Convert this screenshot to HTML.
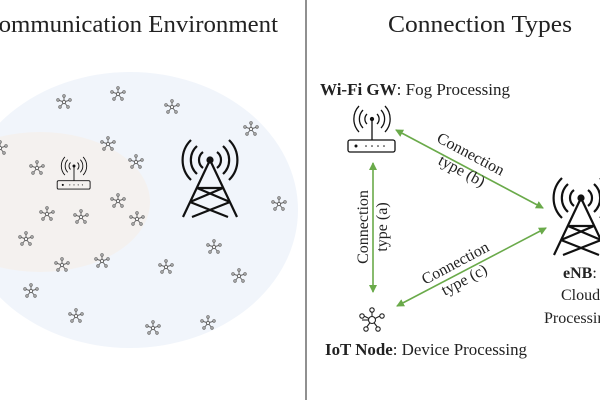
<!DOCTYPE html>
<html><head><meta charset="utf-8"><style>
html,body{margin:0;padding:0;background:#fff;width:600px;height:400px;overflow:hidden}
svg{display:block}
text{font-family:"Liberation Serif",serif;fill:#222}
</style></head><body>
<svg width="600" height="400" viewBox="0 0 600 400" xmlns="http://www.w3.org/2000/svg">
<defs>
<g id="st" fill="#fff" stroke="#666" stroke-width="1">
<line x1="0" y1="0" x2="0" y2="-6"/><line x1="0" y1="0" x2="6" y2="-2"/><line x1="0" y1="0" x2="4" y2="5"/><line x1="0" y1="0" x2="-4" y2="5"/><line x1="0" y1="0" x2="-6" y2="-2"/>
<circle cx="0" cy="-6" r="1.2"/><circle cx="6" cy="-2" r="1.2"/><circle cx="4" cy="5" r="1.2"/><circle cx="-4" cy="5" r="1.2"/><circle cx="-6" cy="-2" r="1.2"/><circle r="1.6"/>
</g>
<g id="tower" fill="none" stroke="#111" stroke-width="2.2">
<path d="M0,0 L-27,57 M0,0 L27,57 M-20,42 L18,57 M20,42 L-18,57 M-13,28 L20,42 M13,28 L-20,42 M-13,28 L13,28"/>
<circle cx="0" cy="0" r="2.5" fill="#111"/>
<path d="M-7,-8 A10,10 0 0 0 -7,8 M7,-8 A10,10 0 0 1 7,8 M-13,-14 A19,19 0 0 0 -13,14 M13,-14 A19,19 0 0 1 13,14 M-19,-20 A28,28 0 0 0 -19,20 M19,-20 A28,28 0 0 1 19,20"/>
</g>
<g id="router" fill="none" stroke="#111" stroke-width="1.3">
<rect x="-24" y="21" width="47" height="12" rx="2"/>
<line x1="0" y1="0" x2="0" y2="21"/><circle cx="0" cy="0" r="1.5" fill="#111"/>
<circle cx="-16" cy="27" r="1.5" fill="#111" stroke="none"/>
<g fill="#111" stroke="none"><circle cx="-6" cy="27" r="0.8"/><circle cx="0" cy="27" r="0.8"/><circle cx="6" cy="27" r="0.8"/><circle cx="12" cy="27" r="0.8"/></g>
<path d="M-5,-5 A7,7 0 0 0 -5,5 M5,-5 A7,7 0 0 1 5,5 M-9,-9 A13,13 0 0 0 -9,9 M9,-9 A13,13 0 0 1 9,9 M-13,-13 A19,19 0 0 0 -13,13 M13,-13 A19,19 0 0 1 13,13"/>
</g>
<marker id="ah" markerWidth="8" markerHeight="8" refX="7" refY="4" orient="auto-start-reverse" markerUnits="userSpaceOnUse"><path d="M0,0 L8,4 L0,8 Z" fill="#6aaa4a"/></marker>
</defs>
<ellipse cx="130" cy="210" rx="168" ry="138" fill="#f1f5fb"/>
<ellipse cx="40" cy="202" rx="110" ry="70" fill="#f4f1ef"/>
<text x="-18" y="32" font-size="24.5" textLength="296" lengthAdjust="spacingAndGlyphs">Communication Environment</text>
<g>
<use href="#st" x="64" y="102"/><use href="#st" x="118" y="94"/><use href="#st" x="172" y="107"/><use href="#st" x="251" y="129"/><use href="#st" x="0" y="148"/><use href="#st" x="108" y="144"/><use href="#st" x="136" y="162"/><use href="#st" x="37" y="168"/><use href="#st" x="118" y="201"/><use href="#st" x="137" y="219"/><use href="#st" x="47" y="214"/><use href="#st" x="81" y="217"/><use href="#st" x="26" y="239"/><use href="#st" x="279" y="204"/><use href="#st" x="214" y="247"/><use href="#st" x="166" y="267"/><use href="#st" x="239" y="276"/><use href="#st" x="62" y="265"/><use href="#st" x="102" y="261"/><use href="#st" x="31" y="291"/><use href="#st" x="76" y="316"/><use href="#st" x="153" y="328"/><use href="#st" x="208" y="323"/>
</g>
<g transform="translate(74,166) scale(0.7)"><use href="#router"/></g>
<use href="#tower" x="210" y="160"/>
<line x1="306" y1="0" x2="306" y2="400" stroke="#222" stroke-width="1"/>
<text x="388" y="32" font-size="24.5" textLength="184" lengthAdjust="spacingAndGlyphs">Connection Types</text>
<text x="320" y="95" font-size="17" textLength="190" lengthAdjust="spacingAndGlyphs"><tspan font-weight="bold">Wi-Fi GW</tspan>: Fog Processing</text>
<g transform="translate(372,119)"><use href="#router"/></g>
<g stroke="#6aaa4a" stroke-width="1.6" fill="none">
<line x1="373" y1="163" x2="373" y2="292" marker-start="url(#ah)" marker-end="url(#ah)"/>
<line x1="396" y1="130" x2="543" y2="208" marker-start="url(#ah)" marker-end="url(#ah)"/>
<line x1="546" y1="228" x2="397" y2="306" marker-start="url(#ah)" marker-end="url(#ah)"/>
</g>
<text font-size="16" text-anchor="middle" transform="translate(373,227) rotate(-90)"><tspan x="0" y="-5">Connection</tspan><tspan x="0" y="14">type (a)</tspan></text>
<text font-size="16" text-anchor="middle" transform="translate(466,163) rotate(28)"><tspan x="0" y="-5">Connection</tspan><tspan x="0" y="14">type (b)</tspan></text>
<text font-size="16" text-anchor="middle" transform="translate(460,272) rotate(-28)"><tspan x="0" y="-5">Connection</tspan><tspan x="0" y="14">type (c)</tspan></text>
<g transform="translate(372,320)" stroke="#222" fill="#fff" stroke-width="1.1">
<line x1="0" y1="0" x2="0" y2="-10"/><line x1="0" y1="0" x2="-10" y2="-5"/><line x1="0" y1="0" x2="10" y2="-5"/><line x1="0" y1="0" x2="-6" y2="8"/><line x1="0" y1="0" x2="6" y2="8"/><line x1="0" y1="0" x2="-10" y2="0"/>
<circle cy="-10" r="2.2"/><circle cx="-10" cy="-4" r="2.2"/><circle cx="10" cy="-4" r="2.2"/><circle cx="-6" cy="9" r="2.2"/><circle cx="6" cy="9" r="2.2"/><circle r="3.5"/>
</g>
<text x="325" y="355" font-size="17" textLength="202" lengthAdjust="spacingAndGlyphs"><tspan font-weight="bold">IoT Node</tspan>: Device Processing</text>
<use href="#tower" x="581" y="198"/>
<text font-size="16"><tspan x="563" y="278" font-weight="bold">eNB</tspan><tspan>:</tspan><tspan x="561" y="300">Cloud</tspan><tspan x="544" y="323">Processing</tspan></text>
</svg>
</body></html>
